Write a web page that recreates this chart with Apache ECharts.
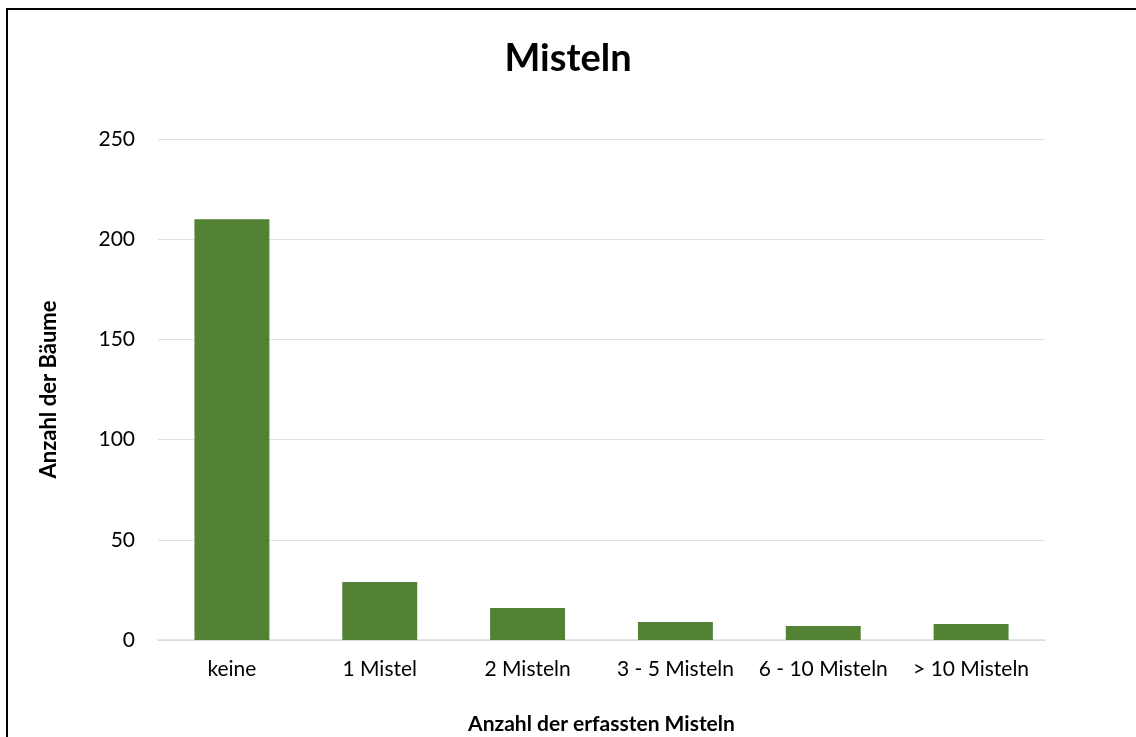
<!DOCTYPE html>
<html>
<head>
<meta charset="utf-8">
<script src="https://cdn.jsdelivr.net/npm/echarts@6/dist/echarts.min.js"></script>
<style>
html,body{margin:0;padding:0;background:#fff;overflow:hidden;}
#frame{position:absolute;left:6px;top:8px;width:1200px;height:800px;border:2px solid #000;box-sizing:border-box;}
#chart{position:absolute;left:0;top:0;width:1136px;height:737px;}
</style>
</head>
<body>
<div id="frame"></div>
<div id="chart"></div>
<script>
const categories = ['keine', '1 Mistel', '2 Misteln', '3 - 5 Misteln', '6 - 10 Misteln', '> 10 Misteln'];
const values = [210, 29, 16, 9, 7, 8];
const yTicks = {min: 0, max: 250, interval: 50};
const titleText = 'Misteln';
const xName = 'Anzahl der erfassten Misteln';
const yName = 'Anzahl der Bäume';

const chart = echarts.init(document.getElementById('chart'), null, {renderer: 'canvas'});
const font = 'Lato, "Open Sans", sans-serif';
chart.setOption({
  backgroundColor: 'transparent',
  animation: false,
  title: {
    text: titleText, left: 'center', top: 35,
    textStyle: {fontFamily: font, fontSize: 38, fontWeight: 'bold', color: '#000'}
  },
  grid: {left: 158, right: 91, top: 139, bottom: 97, containLabel: false, outerBoundsMode: 'none'},
  xAxis: {
    type: 'category', data: categories,
    name: xName, nameLocation: 'middle', nameGap: 74,
    nameTextStyle: {fontFamily: font, fontSize: 21, fontWeight: 'bold', color: '#000'},
    axisLine: {show: true, lineStyle: {color: '#d9dde3', width: 1.5}},
    axisTick: {show: false},
    axisLabel: {fontFamily: font, fontSize: 21, color: '#000', margin: 19, interval: 0, hideOverlap: false}
  },
  yAxis: {
    type: 'value', min: yTicks.min, max: yTicks.max, interval: yTicks.interval,
    name: yName, nameLocation: 'middle', nameGap: 98, nameRotate: 90,
    nameTextStyle: {fontFamily: font, fontSize: 22, fontWeight: 'bold', color: '#000'},
    axisLine: {show: false}, axisTick: {show: false},
    axisLabel: {fontFamily: font, fontSize: 21, color: '#000', margin: 23},
    splitLine: {lineStyle: {color: '#dfe2e7', width: 1.2}}
  },
  series: [{
    type: 'bar', data: values, barWidth: '50.7%',
    itemStyle: {color: '#548235'}
  }]
});
</script>
</body>
</html>
